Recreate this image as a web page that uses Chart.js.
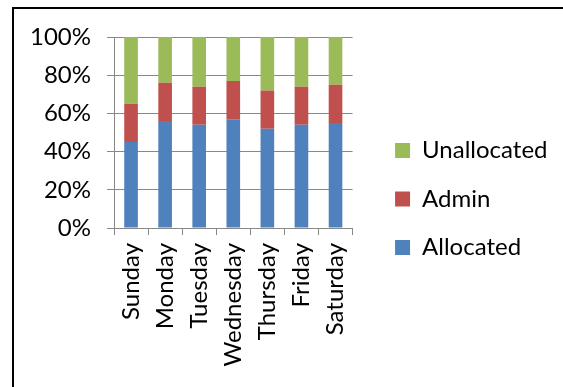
<!DOCTYPE html>
<html>
<head>
<meta charset="utf-8">
<script src="https://cdn.jsdelivr.net/npm/chart.js@4"></script>
<style>
  html, body { margin: 0; padding: 0; background: #ffffff; }
  #wrap { position: relative; width: 563px; height: 387px; overflow: hidden; }
  #frame { position: absolute; left: 12px; top: 7px; width: 700px; height: 500px;
           border-left: 2px solid #000; border-top: 2px solid #000; box-sizing: border-box; }
  #chart { position: absolute; left: 0; top: 0; }
</style>
</head>
<body>
<div id="wrap">
  <div id="frame"></div>
  <canvas id="chart" width="563" height="387"></canvas>
</div>
<script>
// Share of each day's time, stacked to 100%
const days = ['Sunday', 'Monday', 'Tuesday', 'Wednesday', 'Thursday', 'Friday', 'Saturday'];
const allocated   = [45, 56, 54, 57, 52, 54, 55];
const admin       = [20, 20, 20, 20, 20, 20, 20];
const unallocated = [35, 24, 26, 23, 28, 26, 25];
const percentTicks = [0, 20, 40, 60, 80, 100];

const FONT = { family: 'Lato, "Liberation Sans", sans-serif', size: 24 };
const AXIS_GREY = '#888888';
const LEGEND_PAD = 24.5;
const LEGEND_GAP = 42.5;   // space between plot edge and legend swatches
const LEGEND_DY = -13;

// Place the legend column beside the plot
const legendPlacement = {
  id: 'legendPlacement',
  afterLayout(chart) {
    const lg = chart.legend;
    if (!lg) return;
    const dx = (chart.chartArea.right + LEGEND_GAP) - (lg.left + LEGEND_PAD);
    lg.left += dx; lg.right += dx;
    lg.top += LEGEND_DY; lg.bottom += LEGEND_DY;
  }
};

new Chart(document.getElementById('chart'), {
  type: 'bar',
  data: {
    labels: days,
    datasets: [
      { label: 'Allocated',   data: allocated,   backgroundColor: '#4F81BD' },
      { label: 'Admin',       data: admin,       backgroundColor: '#C0504D' },
      { label: 'Unallocated', data: unallocated, backgroundColor: '#9BBB59' }
    ]
  },
  options: {
    responsive: false,
    animation: false,
    devicePixelRatio: 1,
    layout: { padding: { left: 0, top: 37, right: 23.5, bottom: 0 } },
    datasets: { bar: { categoryPercentage: 1, barPercentage: 0.4, borderWidth: 0 } },
    scales: {
      x: {
        stacked: true,
        grid: { offset: true, drawOnChartArea: false, drawTicks: true, tickLength: 7, color: AXIS_GREY, lineWidth: 1 },
        border: { color: AXIS_GREY, width: 1 },
        ticks: { minRotation: 90, maxRotation: 90, padding: 8, color: '#000', font: FONT, autoSkip: false },
        afterFit(s) { s.height = 159; }
      },
      y: {
        stacked: true,
        min: 0, max: 100,
        afterBuildTicks(s) { s.ticks = percentTicks.map(v => ({ value: v })); },
        ticks: { padding: 16, color: '#000', font: FONT, callback: v => v + '%' },
        grid: { color: AXIS_GREY, lineWidth: 1, tickLength: 7 },
        border: { color: AXIS_GREY, width: 1 },
        afterFit(s) { s.width = 114; }
      }
    },
    plugins: {
      legend: {
        position: 'right',
        reverse: true,
        maxWidth: 400,
        labels: { boxWidth: 15, boxHeight: 15, padding: LEGEND_PAD, color: '#000', font: FONT }
      },
      tooltip: { enabled: false }
    }
  },
  plugins: [legendPlacement]
});
</script>
</body>
</html>
